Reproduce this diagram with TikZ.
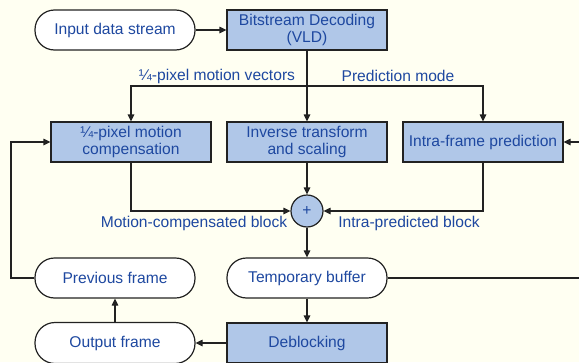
\documentclass[tikz,border=0pt]{standalone}
\usepackage{fontspec}
\setmainfont{Liberation Sans}
\usetikzlibrary{arrows.meta}
\definecolor{bgc}{RGB}{255,255,242}
\definecolor{boxc}{RGB}{176,199,232}
\definecolor{txtc}{RGB}{30,72,160}
\definecolor{linec}{RGB}{34,34,34}
\tikzset{
  base/.style={draw=linec, line width=1.2pt, text=txtc, font=\fontsize{15.6}{17.5}\selectfont, align=center, inner sep=0pt},
  procbox/.style={base, fill=boxc, rectangle, minimum width=160pt, minimum height=40pt},
  stadium/.style={base, fill=white, rectangle, rounded corners=19.5pt, minimum width=160pt, minimum height=40pt},
  sumnode/.style={base, fill=boxc, circle, minimum size=32pt},
  lbl/.style={text=txtc, font=\fontsize{15.6}{17.5}\selectfont, inner sep=0pt},
  conn/.style={draw=linec, line width=1.2pt},
  arr/.style={conn, -{Triangle[length=7pt,width=6.5pt]}}
}
\begin{document}
\begin{tikzpicture}[x=1pt,y=-1pt]
\fill[bgc] (0,0) rectangle (579,362);
\useasboundingbox (0,0) rectangle (579,362);
\begin{scope}
\clip (0,0) rectangle (579,362);
\node[stadium] (in) at (115,30) {Input data stream};
\node[procbox] (vld) at (307,30) {Bitstream Decoding\\(VLD)};
\node[procbox] (mc) at (131,142) {¼-pixel motion\\compensation};
\node[procbox] (it) at (307,142) {Inverse transform\\and scaling};
\node[procbox] (ip) at (483,142) {Intra-frame prediction};
\node[sumnode] (plus) at (307,211) {+};
\node[stadium] (tb) at (307,278) {Temporary buffer};
\node[stadium] (pf) at (115,278) {Previous frame};
\node[stadium, minimum height=41pt, rounded corners=20pt] (of) at (115,343) {Output frame};
\node[procbox] (db) at (307,343) {Deblocking};

\node[lbl] (lmv) at (217,76) {¼-pixel motion vectors};
\node[lbl] (lpm) at (398,76) {Prediction mode};
\node[lbl] (lmc) at (194,223) {Motion-compensated block};
\node[lbl] (lib) at (409,223) {Intra-predicted block};

\coordinate (split) at (307,86);
\coordinate (rin) at (580,142);
\coordinate (rout) at (580,278);
\coordinate (lft) at (11,278);

\draw[arr] (in) -- (vld);
\draw[arr] (vld) -- (it);
\draw[arr] (split) -| (mc.north);
\draw[arr] (split) -| (ip.north);
\draw[arr] (rin) -- (ip.east);
\draw[arr] (mc.south) |- (plus.west);
\draw[arr] (ip.south) |- (plus.east);
\draw[arr] (it) -- (plus);
\draw[arr] (plus) -- (tb);
\draw[conn] (tb.east) -- (rout);
\draw[arr] (tb) -- (db);
\draw[arr] (db) -- (of);
\draw[arr] (of) -- (pf);
\draw[arr] (pf.west) -- (lft) |- (mc.west);
\end{scope}
\end{tikzpicture}
\end{document}
